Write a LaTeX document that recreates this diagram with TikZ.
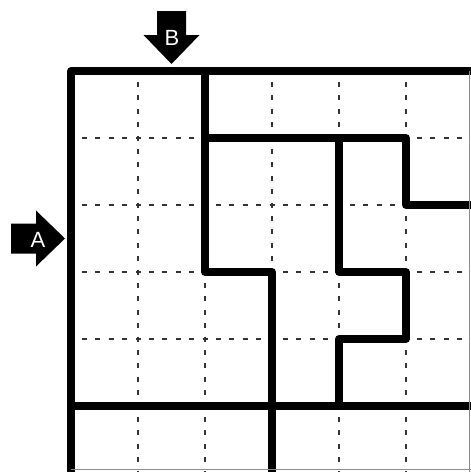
\documentclass[tikz,border=0pt]{standalone}
\usepackage{fontspec}
\setmainfont{Liberation Sans}
\begin{document}
\begin{tikzpicture}[x=1pt,y=-1pt,
  wall/.style={line width=7.5pt, line join=round, line cap=round, black},
  guide/.style={line width=1.3pt, black!80, dash pattern=on 5pt off 8.4pt, dash phase=2.5pt},
  edge/.style={line width=1.2pt, black!45},
  pointer/.style={fill=black},
  letter/.style={text=white, inner sep=0pt, font=\fontsize{22}{22}\selectfont}]
\useasboundingbox[fill=white] (0,0) rectangle (471,472);
% dashed guide grid
\foreach \i in {1,...,5} {
  \draw[guide] ({71+67*\i},71) -- ({71+67*\i},473);
  \draw[guide] (71,{71+67*\i}) -- (473,{71+67*\i});
}
% thick walls
\draw[wall] (71,480) -- (71,71) -- (480,71);
\draw[wall] (205,71) -- (205,272) -- (272,272) -- (272,480);
\draw[wall] (205,138) -- (406,138) -- (406,205) -- (480,205);
\draw[wall] (339,138) -- (339,272) -- (406,272) -- (406,339) -- (339,339) -- (339,406);
\draw[wall] (71,406) -- (480,406);
% cropped outer edges
\draw[edge] (469.5,71) -- (469.5,472);
\draw[edge] (71,469.5) -- (471,469.5);
% entry arrows
\fill[pointer] (157,11) -- (186,11) -- (186,35) -- (199.5,35) -- (171.5,64) -- (143.5,35) -- (157,35) -- cycle;
\fill[pointer] (11,223.5) -- (36,223.5) -- (36,210.5) -- (65,238.5) -- (36,266.5) -- (36,253.5) -- (11,253.5) -- cycle;
\node[letter] (labB) at (172,37.5) {B};
\node[letter] (labA) at (38,240) {A};
\end{tikzpicture}
\end{document}
